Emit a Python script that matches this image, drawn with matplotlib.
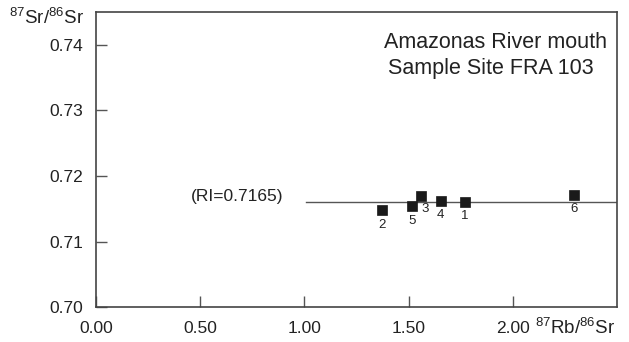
import matplotlib
matplotlib.use("Agg")
import matplotlib.pyplot as plt

# Rb-Sr isochron data, Amazonas River mouth, site FRA 103
sample_ids = ["1", "2", "3", "4", "5", "6"]
rb_sr = [1.771, 1.374, 1.558, 1.654, 1.518, 2.295]
sr_sr = [0.71608, 0.71482, 0.71699, 0.71619, 0.71543, 0.71714]

ri_line_x = [1.01, 2.5]
ri_line_y = [0.716, 0.716]

x_ticks = [0.0, 0.5, 1.0, 1.5, 2.0]
x_ticklabels = ["0.00", "0.50", "1.00", "1.50", "2.00"]
y_ticks = [0.70, 0.71, 0.72, 0.73, 0.74]
y_ticklabels = ["0.70", "0.71", "0.72", "0.73", "0.74"]

# label offsets (points) for sample numbers
label_offsets = {"1": (0, -10), "2": (0, -10.5), "3": (3.5, -9.5),
                 "4": (0, -10), "5": (0, -10.5), "6": (0, -10)}

plt.rcParams["font.family"] = ["Liberation Sans", "DejaVu Sans"]
plt.rcParams["mathtext.fontset"] = "custom"
plt.rcParams["mathtext.rm"] = "Liberation Sans"
plt.rcParams["mathtext.it"] = "Liberation Sans"

ink = "#222222"

fig = plt.figure(figsize=(6.29, 3.42), dpi=100)
ax = fig.add_axes([0.1526, 0.1009, 0.981 - 0.1526, 0.965 - 0.1009])

ax.plot(ri_line_x, ri_line_y, color="#555555", lw=1.0)
ax.plot(rb_sr, sr_sr, "s", color="#1a1a1a", markersize=7.5, mew=0.5)

for sid, xv, yv in zip(sample_ids, rb_sr, sr_sr):
    dx, dy = label_offsets[sid]
    ax.annotate(sid, (xv, yv), xytext=(dx, dy), textcoords="offset points",
                ha="center", va="center", fontsize=9.5, color=ink)

ax.text(0.676, 0.71684, "(RI=0.7165)", ha="center", va="center", fontsize=12.5, color=ink)
ax.text(0.766, 0.895, "Amazonas River mouth", transform=ax.transAxes,
        ha="center", va="center", fontsize=15.5, color=ink)
ax.text(0.758, 0.81, "Sample Site FRA 103", transform=ax.transAxes,
        ha="center", va="center", fontsize=15.5, color=ink)

ax.set_xlim(0, 2.5)
ax.set_ylim(0.70, 0.745)
ax.set_xticks(x_ticks)
ax.set_xticklabels(x_ticklabels)
ax.set_yticks(y_ticks)
ax.set_yticklabels(y_ticklabels)
ax.tick_params(axis="both", direction="in", length=8, width=1, color="#555555",
               labelsize=12.5, labelcolor=ink)
ax.tick_params(axis="x", pad=10)
ax.tick_params(axis="y", pad=9)
for sp in ax.spines.values():
    sp.set_color("#444444")
    sp.set_linewidth(1.2)

fig.text(0.133, 0.947, r"$^{87}$Sr/$^{86}$Sr", ha="right", va="center", fontsize=13.5, color=ink)
fig.text(0.978, 0.042, r"$^{87}$Rb/$^{86}$Sr", ha="right", va="center", fontsize=13.5, color=ink)

fig.savefig("out.png", dpi=100)
